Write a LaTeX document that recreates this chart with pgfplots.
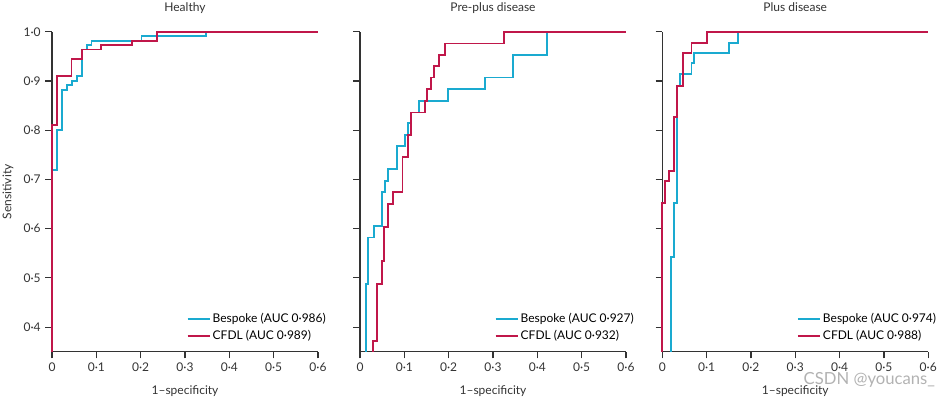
\documentclass[border=0pt]{standalone}
\usepackage{fontspec}
\setmainfont{Lato}
\usepackage{pgfplots}
\pgfplotsset{compat=1.18}
\definecolor{bsp}{HTML}{1AAAD0}
\definecolor{cfd}{HTML}{C0174A}
\definecolor{axg}{HTML}{333333}
\pgfplotsset{
  rocax/.style={
    scale only axis, width=199.5pt, height=240pt,
    xmin=0, xmax=0.6, ymin=0.35, ymax=1.0,
    clip=false,
    axis x line*=bottom, axis y line*=left,
    axis line style={axg, line width=0.9pt},
    every tick/.style={axg, line width=0.9pt},
    tick align=outside, major tick length=5pt,
    xtick={0,0.1,0.2,0.3,0.4,0.5,0.6},
    xticklabels={0,0·1,0·2,0·3,0·4,0·5,0·6},
    ytick={0.4,0.5,0.6,0.7,0.8,0.9,1.0},
    tick label style={font=\fontsize{9}{11}\selectfont, text=axg},
    xlabel={1–specificity},
    xlabel style={at={(axis description cs:0.5,0)}, anchor=base, yshift=-32pt, font=\fontsize{9}{11}\selectfont, text=axg},
    title style={at={(axis description cs:0.5,1)}, anchor=base, yshift=9pt, font=\fontsize{9}{11}\selectfont, text=axg},
    legend image code/.code={\draw[line width=1.4pt,#1] (0pt,0pt) -- (17pt,0pt);},
    legend cell align=left,
    legend style={at={(0.505,0.125)}, anchor=north west, draw=none, fill=none, inner sep=0pt, row sep=1.5pt,
      font=\fontsize{9}{11}\selectfont, nodes={inner sep=1.2pt}},
    every axis plot/.append style={const plot, line width=1.4pt, mark=none},
  }
}
\begin{document}
\begin{tikzpicture}
% Panel 1: Healthy
\begin{axis}[rocax, at={(0pt,0pt)}, anchor=south west, title={Healthy},
  yticklabels={0·4,0·5,0·6,0·7,0·8,0·9,1·0},
  ylabel={Sensitivity},
  ylabel style={at={([xshift=-33pt]axis description cs:0,0.5)}, anchor=center, font=\fontsize{9}{11}\selectfont, text=axg}]
\addplot[bsp] coordinates {(0,0.35)(0,0.72)(0.011,0.80)(0.022,0.882)(0.033,0.891)(0.046,0.900)(0.056,0.910)(0.067,0.964)(0.078,0.973)(0.089,0.982)(0.202,0.991)(0.348,1.0)(0.6,1.0)};
\addlegendentry{Bespoke (AUC 0·986)}
\addplot[cfd] coordinates {(0,0.35)(0,0.81)(0.011,0.91)(0.044,0.945)(0.067,0.964)(0.110,0.973)(0.181,0.982)(0.236,1.0)(0.6,1.0)};
\addlegendentry{CFDL (AUC 0·989)}
\end{axis}
% Panel 2: Pre-plus disease
\begin{axis}[rocax, at={(231pt,0pt)}, anchor=south west, title={Pre-plus disease}, yticklabels={}]
\addplot[bsp] coordinates {(0.013,0.35)(0.013,0.487)(0.019,0.582)(0.032,0.605)(0.050,0.675)(0.057,0.697)(0.064,0.721)(0.083,0.768)(0.102,0.790)(0.109,0.814)(0.115,0.836)(0.133,0.860)(0.198,0.883)(0.281,0.907)(0.345,0.953)(0.421,1.0)(0.6,1.0)};
\addlegendentry{Bespoke (AUC 0·927)}
\addplot[cfd] coordinates {(0.030,0.35)(0.030,0.371)(0.038,0.487)(0.050,0.535)(0.055,0.604)(0.064,0.650)(0.075,0.674)(0.096,0.745)(0.109,0.790)(0.115,0.836)(0.147,0.860)(0.152,0.883)(0.160,0.907)(0.166,0.930)(0.179,0.953)(0.192,0.976)(0.324,1.0)(0.6,1.0)};
\addlegendentry{CFDL (AUC 0·932)}
\end{axis}
% Panel 3: Plus disease
\begin{axis}[rocax, at={(457.7pt,0pt)}, anchor=south west, title={Plus disease}, yticklabels={}]
\addplot[bsp] coordinates {(0.0195,0.35)(0.0195,0.543)(0.027,0.652)(0.034,0.890)(0.040,0.914)(0.066,0.936)(0.072,0.956)(0.150,0.978)(0.170,1.0)(0.6,1.0)};
\addlegendentry{Bespoke (AUC 0·974)}
\addplot[cfd] coordinates {(0,0.35)(0,0.652)(0.006,0.697)(0.015,0.717)(0.027,0.826)(0.034,0.890)(0.047,0.956)(0.066,0.978)(0.100,1.0)(0.6,1.0)};
\addlegendentry{CFDL (AUC 0·988)}
\end{axis}
\node[anchor=center, text=black!30, font=\fontsize{12.5}{14}\selectfont] at (613pt,-21pt) {CSDN @youcans\_};
\pgfresetboundingbox
\path[use as bounding box] (-39pt,-34pt) rectangle (666pt,263.8pt);
\end{tikzpicture}
\end{document}
